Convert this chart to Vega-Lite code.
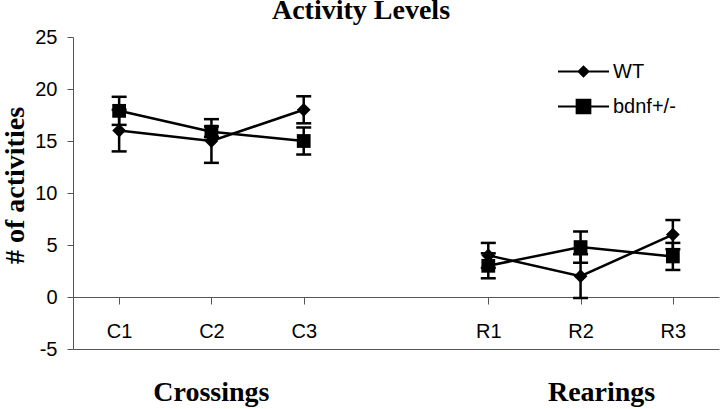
{
  "$schema": "https://vega.github.io/schema/vega-lite/v6.json",
  "width": 646,
  "height": 312,
  "autosize": {"type": "none"},
  "padding": {"left": 73, "top": 37, "right": 1, "bottom": 60},
  "background": "white",
  "title": {"text": "Activity Levels", "font": "Liberation Serif", "fontSize": 28, "fontWeight": "bold", "color": "black", "baseline": "alphabetic", "offset": 17, "anchor": "middle", "dx": -35, "dy": 37},
  "config": {"view": {"stroke": null}, "axis": {"grid": false}},
  "data": {"values": [
    {"series": "WT", "group": "Crossings", "label": "C1", "value": 16, "err": 2.0},
    {"series": "WT", "group": "Crossings", "label": "C2", "value": 15, "err": 2.1},
    {"series": "WT", "group": "Crossings", "label": "C3", "value": 18, "err": 1.3},
    {"series": "WT", "group": "Rearings", "label": "R1", "value": 4, "err": 1.2},
    {"series": "WT", "group": "Rearings", "label": "R2", "value": 2, "err": 2.1},
    {"series": "WT", "group": "Rearings", "label": "R3", "value": 6, "err": 1.4},
    {"series": "bdnf+/-", "group": "Crossings", "label": "C1", "value": 17.9, "err": 1.35},
    {"series": "bdnf+/-", "group": "Crossings", "label": "C2", "value": 15.9, "err": 0.5},
    {"series": "bdnf+/-", "group": "Crossings", "label": "C3", "value": 15, "err": 1.3},
    {"series": "bdnf+/-", "group": "Rearings", "label": "R1", "value": 3, "err": 1.2},
    {"series": "bdnf+/-", "group": "Rearings", "label": "R2", "value": 4.8, "err": 1.5},
    {"series": "bdnf+/-", "group": "Rearings", "label": "R3", "value": 3.9, "err": 1.3}
  ]},
  "resolve": {"axis": {"x": "independent"}, "scale": {"shape": "independent"}},
  "layer": [
    {
      "mark": {"type": "line", "color": "black", "strokeWidth": 2.5},
      "encoding": {
        "x": {"field": "label", "type": "ordinal",
          "scale": {"type": "point", "domain": ["C1", "C2", "C3", " ", "R1", "R2", "R3"], "padding": 0.5},
          "axis": {"orient": "top", "offset": -260, "tickSize": -7, "labels": false, "title": null, "values": ["C1", "C2", "C3", "R1", "R2", "R3"], "domainColor": "#555", "tickColor": "#555", "domainWidth": 1, "tickWidth": 1}},
        "y": {"field": "value", "type": "quantitative",
          "scale": {"domain": [-5, 25], "nice": false, "zero": false},
          "axis": {"title": "# of activities", "values": [-5, 0, 5, 10, 15, 20, 25], "tickSize": 6, "labelPadding": 10,
            "labelExpr": "'' + datum.value",
            "labelFont": "Liberation Sans", "labelFontSize": 20, "labelColor": "black", "labelBaseline": "middle",
            "domainColor": "#555", "tickColor": "#555",
            "titleFont": "Liberation Serif", "titleFontSize": 28, "titleFontWeight": "bold", "titleColor": "black",
            "titleX": -50, "titleY": 148, "titleAngle": -90, "titleAlign": "center", "titleBaseline": "alphabetic"}},
        "detail": [{"field": "series"}, {"field": "group"}]
      }
    },
    {
      "mark": {"type": "errorbar", "ticks": {"size": 15, "thickness": 2.5, "color": "black", "opacity": 1}, "rule": {"strokeWidth": 2.5, "color": "black", "opacity": 1}, "color": "black"},
      "encoding": {
        "x": {"field": "label", "type": "ordinal", "axis": null},
        "y": {"field": "value", "type": "quantitative", "title": "# of activities"},
        "yError": {"field": "err"},
        "detail": {"field": "series"}
      }
    },
    {
      "mark": {"type": "point", "filled": true, "opacity": 1, "color": "black", "size": 190},
      "encoding": {
        "x": {"field": "label", "type": "ordinal",
          "axis": {"orient": "bottom", "ticks": false, "tickSize": 0, "labelPadding": -12, "labelBaseline": "alphabetic", "labelAngle": 0,
            "labelFont": "Liberation Sans", "labelFontSize": 20, "labelColor": "black", "domainColor": "#555", "title": null,
            "values": ["C1", "C2", "C3", "R1", "R2", "R3"]}},
        "y": {"field": "value", "type": "quantitative", "title": "# of activities"},
        "shape": {"field": "series", "type": "nominal",
          "scale": {"domain": ["WT", "bdnf+/-"], "range": ["diamond", "square"]},
          "legend": null}
      }
    },
    {
      "mark": {"type": "point", "filled": true, "opacity": 0, "color": "black", "size": 1},
      "encoding": {
        "x": {"field": "label", "type": "ordinal", "axis": null},
        "y": {"field": "value", "type": "quantitative", "title": "# of activities"},
        "shape": {"field": "series", "type": "nominal",
          "scale": {"domain": ["WT", "bdnf+/-"], "range": ["M-2.5,-0.1H2.5V0.1H-2.5ZM0,-0.62L0.62,0L0,0.62L-0.62,0Z", "M-2.5,-0.1H2.5V0.1H-2.5ZM-0.77,-0.77H0.77V0.77H-0.77Z"]},
          "legend": {"title": null, "orient": "none", "legendX": 500, "legendY": 24, "symbolSize": 416, "padding": 0,
            "labelFont": "Liberation Sans", "labelFontSize": 20, "labelColor": "black", "labelOffset": 19, "rowPadding": 14,
            "symbolOpacity": 1, "symbolStrokeWidth": 0, "symbolFillColor": "black"}}
      }
    },
    {
      "data": {"values": [{"name": "Crossings", "pos": "C2"}]},
      "mark": {"type": "text", "font": "Liberation Serif", "fontSize": 28, "fontWeight": "bold", "color": "black", "baseline": "alphabetic", "align": "center"},
      "encoding": {
        "x": {"field": "pos", "type": "ordinal", "axis": null},
        "y": {"datum": -10, "type": "quantitative"},
        "text": {"field": "name"}
      }
    },
    {
      "data": {"values": [{"name": "Rearings", "pos": "R2"}]},
      "mark": {"type": "text", "font": "Liberation Serif", "fontSize": 28, "fontWeight": "bold", "color": "black", "baseline": "alphabetic", "align": "center", "dx": 21},
      "encoding": {
        "x": {"field": "pos", "type": "ordinal", "axis": null},
        "y": {"datum": -10, "type": "quantitative"},
        "text": {"field": "name"}
      }
    }
  ]
}
